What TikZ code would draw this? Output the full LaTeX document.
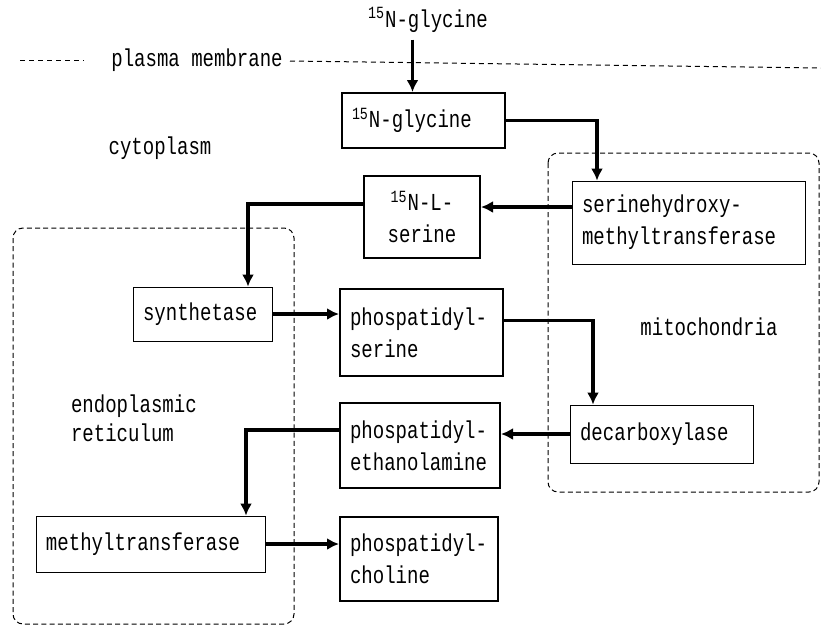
\documentclass[tikz,border=0pt]{standalone}
\usepackage{fontspec}
\setmainfont{Liberation Mono}[FakeStretch=0.78]
\usepackage{tikz}
\usetikzlibrary{arrows.meta,calc}

\begin{document}
\begin{tikzpicture}[x=0.5pt,y=-0.5pt,
        font=\fontsize{12.2}{16}\selectfont,
        box/.style={draw, line width=0.4pt, align=left, inner xsep=5pt, inner ysep=0pt},
        thickbox/.style={box, line width=1pt},
        flow/.style={line width=1.8pt, -{Latex[length=6pt,width=6pt]}},
        region/.style={line width=0.5pt, dash pattern=on 2.5pt off 1.6pt, rounded corners=5pt},
        membrane/.style={line width=0.5pt, dash pattern=on 2.5pt off 2pt}]
        \useasboundingbox (0,0) rectangle (821,628);

        % compartments
        \draw[membrane] (20,60) -- (84,60);
        \node (pm) at (197,60) {plasma membrane};
        \draw[membrane] (290,61) -- (821,68);
        \draw[region] (13,228) rectangle (294,624);
        \draw[region] (548,153) rectangle (819,492);
        \node (cyto) at (160,148) {cytoplasm};
        \node (mito) at (709,327) {mitochondria};
        \node[anchor=west, align=left, font=\fontsize{12.2}{14.5}\selectfont] (er) at (64,418) {endoplasmic\\reticulum};

        % metabolites and enzymes
        \node (gout) at (428,20) {\textsuperscript{15}N-glycine};
        \node[thickbox, text width=71.5pt, minimum height=27.5pt] (gin) at (423.5,120.5) {\textsuperscript{15}N-glycine};
        \node[box, text width=106.5pt, minimum height=41.5pt] (shmt) at (688.5,222.5) {serinehydroxy-\\methyltransferase};
        \node[thickbox, align=center, text width=48pt, minimum height=41pt] (ser) at (422,217) {\textsuperscript{15}N-L-\\serine};
        \node[box, text width=59.5pt, minimum height=27pt] (synth) at (202.5,314) {synthetase};
        \node[thickbox, text width=71.5pt, minimum height=43.5pt] (ps) at (421.5,332.5) {phospatidyl-\\serine};
        \node[box, text width=81.5pt, minimum height=29pt] (dec) at (661.5,434) {decarboxylase};
        \node[thickbox, text width=70pt, minimum height=42.5pt] (pe) at (420,445.5) {phospatidyl-\\ethanolamine};
        \node[box, text width=104.5pt, minimum height=28pt] (mt) at (150.5,544) {methyltransferase};
        \node[thickbox, text width=69pt, minimum height=42pt] (pc) at (419,559) {phospatidyl-\\choline};

        % pathway
        \draw[flow] ([xshift=-5.5pt]gin.north |- gout.south) -- ([xshift=-5.5pt]gin.north);
        \draw[flow] (gin.east) -| ([xshift=-45.75pt]shmt.north);
        \draw[flow] ([yshift=5pt]ser.east -| shmt.west) -- ([yshift=5pt]ser.east);
        \draw[flow] ([yshift=6.5pt]ser.west) -| ([xshift=22.75pt]synth.north);
        \draw[flow] (synth.east) -- (synth.east -| ps.west);
        \draw[flow] ([yshift=6pt]ps.east) -| ([xshift=-34.25pt]dec.north);
        \draw[flow] (dec.west) -- (dec.west -| pe.east);
        \draw[flow] ([yshift=7.75pt]pe.west) -| ([xshift=47.75pt]mt.north);
        \draw[flow] (mt.east) -- (mt.east -| pc.west);
\end{tikzpicture}
\end{document}
